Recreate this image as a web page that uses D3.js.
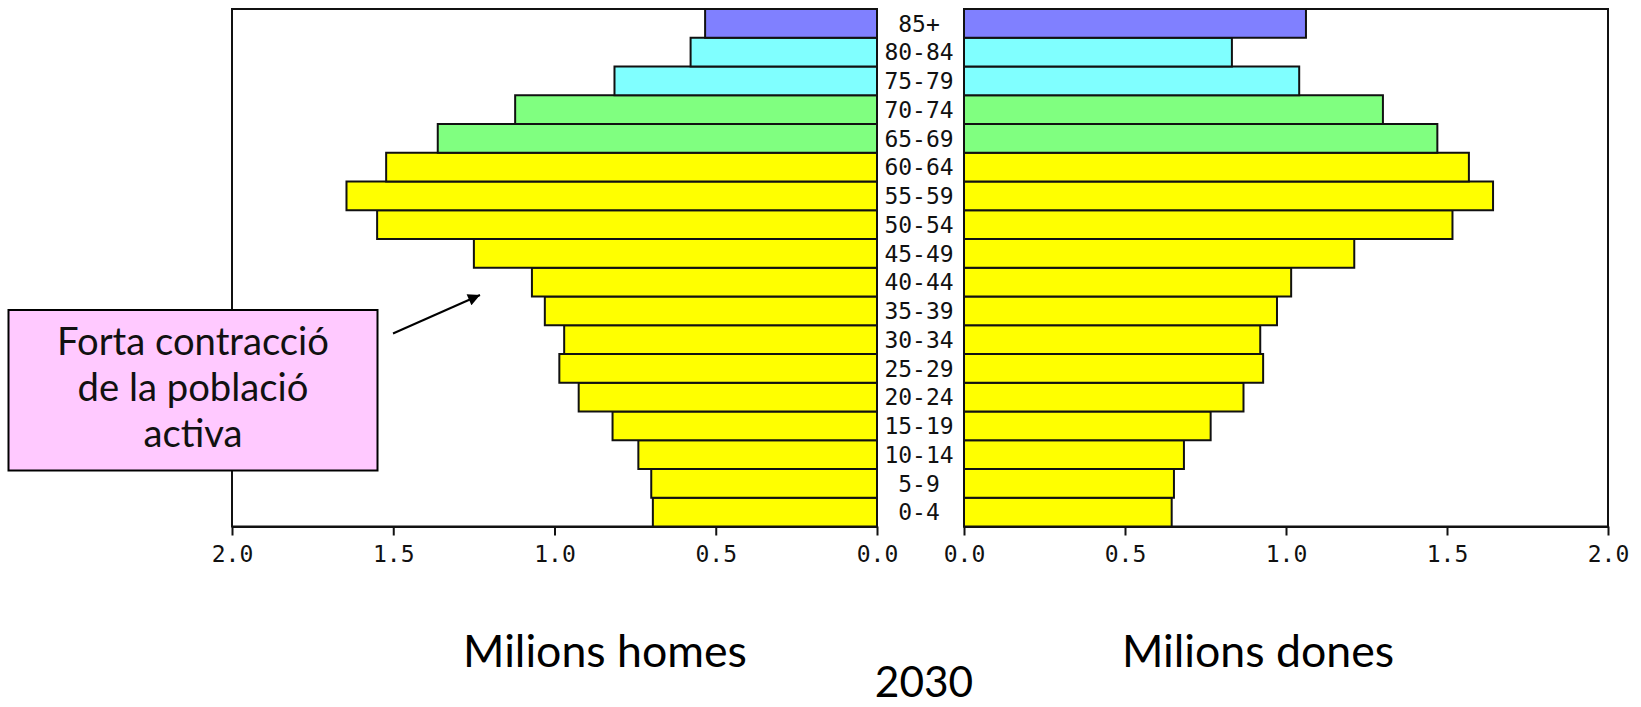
<!DOCTYPE html>
<html><head><meta charset="utf-8">
<script src="https://cdn.jsdelivr.net/npm/d3@7"></script>
<style>body{margin:0;background:#fff;} svg{display:block}</style>
</head><body>
<svg id="chart" width="1641" height="707"></svg>
<script>
// ---- data ----
const ageGroups = ["0-4","5-9","10-14","15-19","20-24","25-29","30-34","35-39","40-44","45-49","50-54","55-59","60-64","65-69","70-74","75-79","80-84","85+"];
const males   = [0.695,0.700,0.740,0.820,0.925,0.985,0.970,1.030,1.070,1.250,1.550,1.645,1.522,1.362,1.122,0.814,0.578,0.533];
const females = [0.645,0.652,0.683,0.766,0.868,0.929,0.920,0.972,1.016,1.212,1.517,1.643,1.568,1.470,1.301,1.041,0.832,1.062];
const xTicks = [0, 0.5, 1.0, 1.5, 2.0];
const annotationLines = ["Forta contracció","de la població","activa"];
const leftTitle = "Milions homes", rightTitle = "Milions dones", yearTitle = "2030";

// ---- layout ----
const svg = d3.select("#chart");
const plotTop = 9, plotBottom = 526.5;
const Lx0 = 877, Lx2 = 232, Rx0 = 964, Rx2 = 1608;
const xL = d3.scaleLinear().domain([0,2]).range([Lx0, Lx2]);
const xR = d3.scaleLinear().domain([0,2]).range([Rx0, Rx2]);
const y = d3.scaleBand().domain(ageGroups.slice().reverse()).range([plotTop, plotBottom]).padding(0);
const startAge = a => parseInt(a);
const color = d3.scaleThreshold().domain([65,75,85]).range(["#ffff00","#80ff80","#80ffff","#8080ff"]);
const monoFont = "'DejaVu Sans Mono', monospace";

// panel frames
svg.append("rect").attr("x", Lx2).attr("y", plotTop).attr("width", Lx0-Lx2).attr("height", plotBottom-plotTop)
  .attr("fill","none").attr("stroke","#111").attr("stroke-width",2);
svg.append("rect").attr("x", Rx0).attr("y", plotTop).attr("width", Rx2-Rx0).attr("height", plotBottom-plotTop)
  .attr("fill","none").attr("stroke","#111").attr("stroke-width",2);

// bars
const rows = ageGroups.map((a,i)=>({age:a, m:males[i], f:females[i]}));
svg.append("g").selectAll("rect").data(rows).join("rect")
  .attr("x", d=>xL(d.m)).attr("y", d=>y(d.age))
  .attr("width", d=>xL(0)-xL(d.m)).attr("height", y.bandwidth())
  .attr("fill", d=>color(startAge(d.age))).attr("stroke","#111").attr("stroke-width",2);
svg.append("g").selectAll("rect").data(rows).join("rect")
  .attr("x", xR(0)).attr("y", d=>y(d.age))
  .attr("width", d=>xR(d.f)-xR(0)).attr("height", y.bandwidth())
  .attr("fill", d=>color(startAge(d.age))).attr("stroke","#111").attr("stroke-width",2);

// age labels
svg.append("g").selectAll("text").data(ageGroups).join("text")
  .attr("x", 919).attr("y", d=>y(d)+y.bandwidth()/2).attr("dy","0.36em")
  .attr("text-anchor","middle").attr("font-family", monoFont).attr("font-size", 23)
  .attr("fill","#111").text(d=>d);

// axes
function styleAxis(g){
  g.select(".domain").attr("stroke","#111").attr("stroke-width",2);
  g.selectAll(".tick line").attr("stroke","#111").attr("stroke-width",2);
  g.selectAll(".tick text").attr("font-family", monoFont).attr("font-size", 23).attr("fill","#111");
}
svg.append("g").attr("transform",`translate(0,${plotBottom})`)
  .call(d3.axisBottom(xL).tickValues(xTicks).tickFormat(d3.format(".1f")).tickSize(9).tickSizeOuter(0).tickPadding(10))
  .call(styleAxis);
svg.append("g").attr("transform",`translate(0,${plotBottom})`)
  .call(d3.axisBottom(xR).tickValues(xTicks).tickFormat(d3.format(".1f")).tickSize(9).tickSizeOuter(0).tickPadding(10))
  .call(styleAxis);

// text fitting helper (Lato sized to match target width)
function fitText(sel, targetW){
  const base = 40;
  sel.attr("font-size", base);
  const w = sel.node().getComputedTextLength();
  const fs = base*targetW/w;
  sel.attr("font-size", fs);
  return fs;
}
const sansFont = "Lato, 'Open Sans', sans-serif";

// annotation box
svg.append("rect").attr("x",8.5).attr("y",310).attr("width",369).attr("height",160.5)
  .attr("fill","#ffc9ff").attr("stroke","#000").attr("stroke-width",2);
const annBaselines = [355, 401, 446.5];
const t0 = svg.append("text").attr("x",193).attr("y",annBaselines[0]).attr("text-anchor","middle")
  .attr("font-family",sansFont).attr("fill","#111").text(annotationLines[0]);
const annFs = fitText(t0, 272);
annotationLines.slice(1).forEach((s,i)=>{
  svg.append("text").attr("x",193).attr("y",annBaselines[i+1]).attr("text-anchor","middle")
    .attr("font-family",sansFont).attr("font-size",annFs).attr("fill","#111").text(s);
});

// arrow
const defs = svg.append("defs");
defs.append("marker").attr("id","ah").attr("viewBox","0 0 10 10").attr("refX",10).attr("refY",5)
  .attr("markerWidth",8).attr("markerHeight",6).attr("markerUnits","strokeWidth").attr("orient","auto")
  .append("path").attr("d","M0,0 L10,5 L0,10 z").attr("fill","#000");
svg.append("line").attr("x1",393).attr("y1",333.5).attr("x2",480).attr("y2",295)
  .attr("stroke","#000").attr("stroke-width",2).attr("marker-end","url(#ah)");

// titles
const tl = svg.append("text").attr("x",605).attr("y",667).attr("text-anchor","middle")
  .attr("font-family",sansFont).attr("fill","#000").text(leftTitle);
const titleFs = fitText(tl, 284);
svg.append("text").attr("x",1258).attr("y",667).attr("text-anchor","middle")
  .attr("font-family",sansFont).attr("font-size",titleFs).attr("fill","#000").text(rightTitle);
svg.append("text").attr("x",924).attr("y",697).attr("text-anchor","middle")
  .attr("font-family",sansFont).attr("font-size",titleFs * 0.95).attr("fill","#000").text(yearTitle);
</script>
</body></html>
